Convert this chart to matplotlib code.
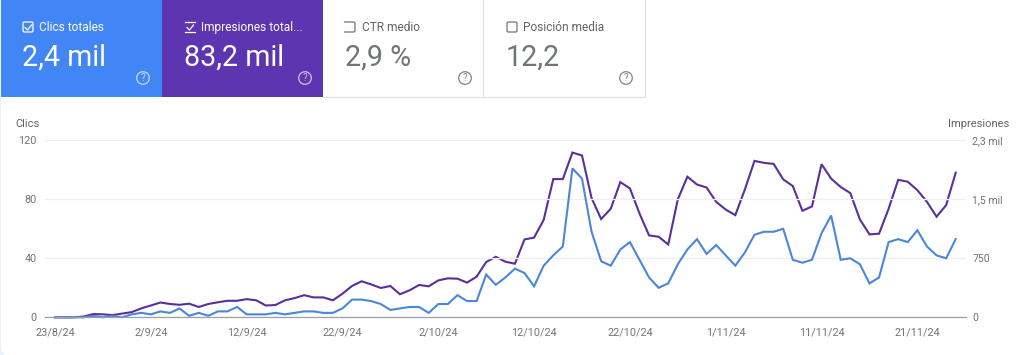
import pandas as pd
import matplotlib
matplotlib.use("Agg")
import matplotlib.pyplot as plt
from matplotlib.patches import Rectangle, FancyBboxPatch, Circle

plt.rcParams['font.family'] = ['Roboto', 'DejaVu Sans']

# datos
clics = [0, 0, 0, 0, 1, 0, 1, 0, 2, 3, 2, 4, 3, 6, 1, 3, 1, 4, 4, 7, 2, 2, 2, 3, 2, 3, 4, 4, 3, 3,
         6, 12, 12, 11, 9, 5, 6, 7, 7, 3, 9, 9, 15, 11, 11, 29, 22, 27, 33, 30, 21, 35, 42, 48,
         101, 94, 58, 38, 35, 46, 51, 39, 27, 20, 23, 36, 46, 53, 43, 49, 42, 35, 44, 56, 58, 58,
         60, 39, 37, 39, 57, 69, 39, 40, 36, 23, 27, 51, 53, 51, 59, 48, 42, 40, 53]
impresiones = [0, 0, 0, 10, 41, 38, 28, 47, 66, 113, 150, 188, 169, 159, 173, 131, 169, 191, 210, 210,
               231, 216, 150, 156, 216, 244, 281, 253, 253, 216, 300, 398, 458, 418, 373, 398, 293,
               343, 411, 394, 469, 495, 491, 441, 516, 703, 769, 707, 681, 990, 1013, 1238, 1757,
               1757, 2094, 2057, 1515, 1249, 1380, 1718, 1639, 1320, 1041, 1024, 926, 1500, 1787,
               1688, 1650, 1468, 1369, 1299, 1626, 1988, 1963, 1950, 1753, 1669, 1354, 1410, 1946,
               1763, 1656, 1579, 1245, 1054, 1063, 1380, 1748, 1723, 1616, 1468, 1279, 1425, 1838]
fechas = pd.date_range("2024-08-23", periods=len(clics), freq="D")

fechas_ticks = pd.to_datetime(["2024-08-23", "2024-09-02", "2024-09-12", "2024-09-22", "2024-10-02",
                               "2024-10-12", "2024-10-22", "2024-11-01", "2024-11-11", "2024-11-21"])
etiquetas_x = ["23/8/24", "2/9/24", "12/9/24", "22/9/24", "2/10/24",
               "12/10/24", "22/10/24", "1/11/24", "11/11/24", "21/11/24"]
ticks_clics = [0, 40, 80, 120]
ticks_impr = [0, 750, 1500, 2250]
etiquetas_impr = ["0", "750", "1,5 mil", "2,3 mil"]

tarjetas = ["Clics totales", "Impresiones total...", "CTR medio", "Posición media"]
valores = ["2,4 mil", "83,2 mil", "2,9 %", "12,2"]

AZUL = "#4285f4"
MORADO = "#5e35b1"
W, H = 1020, 355

fig = plt.figure(figsize=(W / 100, H / 100), dpi=100, facecolor="#eef1f8")

# capa de fondo en pixeles
bg = fig.add_axes([0, 0, 1, 1])
bg.set_xlim(0, W)
bg.set_ylim(H, 0)
bg.axis("off")
bg.add_patch(FancyBboxPatch((1, -20), W + 20, H + 21, boxstyle="round,pad=0,rounding_size=10",
                            fc="white", ec="none"))
bg.add_patch(Rectangle((500, 300), W - 500, 56, fc="white", ec="none"))

# tarjetas de arriba
bg.add_patch(FancyBboxPatch((1, -20), 170, 100, boxstyle="round,pad=0,rounding_size=18",
                            fc=AZUL, ec="none"))
bg.add_patch(Rectangle((1, 40), 161, 57, fc=AZUL, ec="none"))
bg.add_patch(Rectangle((162, 0), 161, 97, fc=MORADO, ec="none"))
bg.plot([323, 645, 645], [96.5, 96.5, 0], color="#dfe1e5", lw=0.9)
bg.plot([483.5, 483.5], [0, 96.5], color="#dfe1e5", lw=0.9)

x_tarjeta = [22, 184, 345, 506]
for i in range(4):
    x0 = x_tarjeta[i]
    col = "white" if i < 2 else "#70757a"
    col_txt = "#ffffff" if i < 2 else "#5f6368"
    # casilla
    if i == 1:
        bg.plot([x0 + 1, x0 + 11], [22, 22], color=col, lw=0.9)
        bg.plot([x0 + 1, x0 + 11], [32, 32], color=col, lw=0.9)
    elif i == 2:
        bg.plot([x0 - 0.5, x0 + 9, x0 + 10, x0 + 10, x0 + 9, x0 - 0.5],
                [22, 22, 23, 31, 32, 32], color=col, lw=0.9)
    else:
        bg.add_patch(FancyBboxPatch((x0 + 1, 22), 10, 10, boxstyle="round,pad=0,rounding_size=1.5",
                                    fc="none", ec=col, lw=0.9))
    if i < 2:
        bg.plot([x0 + 3, x0 + 5.5, x0 + 9.5], [27.5, 30, 25], color=col, lw=0.9)
    bg.text(x0 + 17, 27.5, tarjetas[i], fontsize=8.6, color=col_txt, va="center", ha="left")
    bg.text(x0, 58, valores[i], fontsize=20.6, color=col_txt if i < 2 else "#70757a",
            va="center", ha="left")
    # icono de ayuda
    cx = [143, 305, 465, 626][i]
    col_ic = "#c5d9fb" if i == 0 else ("#cfc2e8" if i == 1 else "#80868b")
    bg.add_patch(Circle((cx, 78), 6.3, fc="none", ec=col_ic, lw=0.9))
    bg.text(cx, 78.3, "?", fontsize=7, color=col_ic, ha="center", va="center")

bg.text(15, 124, "Clics", fontsize=8, color="#5f6368", va="center", ha="left")
bg.text(1009, 124, "Impresiones", fontsize=8, color="#5f6368", va="center", ha="right")

# grafico principal
y_top, y_cero = 140.3, 317.3
ax = fig.add_axes([45 / W, 1 - y_cero / H, (966 - 45) / W, (y_cero - y_top) / H])
ax.patch.set_alpha(0)
dia_px = (955.7 - 55) / 94
ax.set_xlim(fechas[0] - pd.Timedelta(days=10 / dia_px), fechas[0] + pd.Timedelta(days=(966 - 55) / dia_px))
ax.set_ylim(0, 120)
ax.set_yticks(ticks_clics)
ax.set_xticks(fechas_ticks)
ax.set_xticklabels(etiquetas_x)
ax.grid(axis="y", color="#eeeff1", lw=0.9)
ax.set_axisbelow(True)
ax.tick_params(axis="both", length=0, labelsize=7.8, labelcolor="#70757a")
ax.tick_params(axis="x", pad=7)
ax.tick_params(axis="y", pad=6)
for s in ["top", "left", "right"]:
    ax.spines[s].set_visible(False)
ax.spines["bottom"].set_color("#9aa0a6")
ax.spines["bottom"].set_linewidth(0.9)

ax2 = ax.twinx()
ax2.set_ylim(0, 2250)
ax2.set_yticks(ticks_impr)
ax2.set_yticklabels(etiquetas_impr)
ax2.tick_params(axis="y", length=0, labelsize=7.6, labelcolor="#70757a", pad=4.5)
for s in ax2.spines.values():
    s.set_visible(False)

ax2.plot(fechas, impresiones, color="#5b2f9b", lw=1.5, solid_joinstyle="miter", clip_on=False)
ax.set_zorder(ax2.get_zorder() + 1)
ax.plot(fechas, clics, color="#4a86dc", lw=1.5, solid_joinstyle="miter", clip_on=False)

fig.savefig("out.png", dpi=100)
